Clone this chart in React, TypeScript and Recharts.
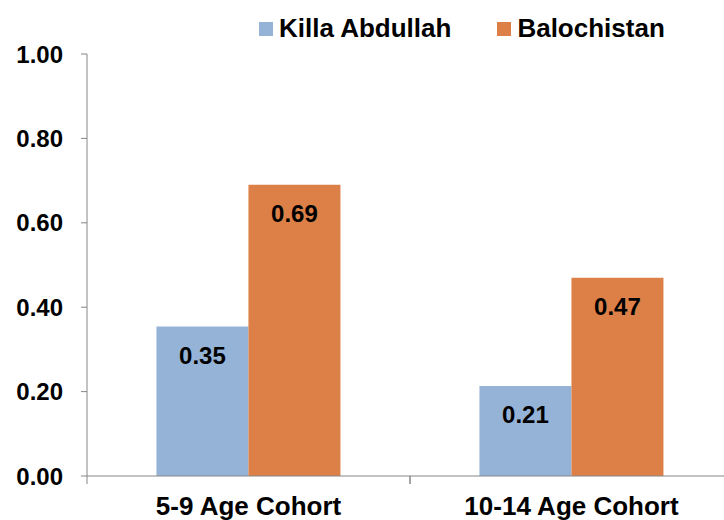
import React from 'react';
import { BarChart, Bar, XAxis, YAxis, LabelList } from 'recharts';

const cohorts = ['5-9 Age Cohort', '10-14 Age Cohort'];
const killaAbdullah = [0.354, 0.213];
const balochistan = [0.69, 0.47];
const yTicks = [0, 0.2, 0.4, 0.6, 0.8, 1.0];

const seriesNames = { killa: 'Killa Abdullah', balo: 'Balochistan' };
const colors = { killa: '#95B3D7', balo: '#DD8047' };

const data = cohorts.map((c, i) => ({
  name: c,
  killa: killaAbdullah[i],
  balo: balochistan[i],
}));

const FONT = '"Liberation Sans", Arial, sans-serif';
const AXIS = '#868686';

const CategoryTick = (props: any) => {
  const { x, y, payload } = props;
  const half = payload && payload.offset ? payload.offset : 0;
  return (
    <g>
      {half > 0 && (
        <>
          <line x1={x - half} x2={x - half} y1={y} y2={y + 8} stroke={AXIS} />
          <line x1={x + half} x2={x + half} y1={y} y2={y + 8} stroke={AXIS} />
        </>
      )}
      <text x={x} y={y + 39} textAnchor="middle" fill="#000" fontSize={26} fontWeight="bold" fontFamily={FONT}>
        {payload.value}
      </text>
    </g>
  );
};

const LegendBox = () => (
  <div style={{ position: 'absolute', left: 259, top: 13, display: 'flex', alignItems: 'center', fontFamily: FONT, fontWeight: 'bold', fontSize: 26, color: '#000', whiteSpace: 'nowrap' }}>
    <span style={{ width: 14, height: 14, background: colors.killa, display: 'inline-block', marginRight: 6 }} />
    <span style={{ marginRight: 46 }}>{seriesNames.killa}</span>
    <span style={{ width: 14, height: 14, background: colors.balo, display: 'inline-block', marginRight: 6 }} />
    <span>{seriesNames.balo}</span>
  </div>
);

export default function App() {
  return (
    <div style={{ position: 'absolute', left: 0, top: 0, width: 724, height: 520, overflow: 'hidden', background: '#fff' }}>
      <LegendBox />
      <BarChart width={740} height={520} data={data} margin={{ top: 54, right: 7, left: 0, bottom: 0 }} barCategoryGap="21.5%" barGap={0}>
        <XAxis
          dataKey="name"
          height={44}
          tickSize={0}
          tickMargin={0}
          tickLine={false}
          axisLine={{ stroke: AXIS }}
          tick={<CategoryTick />}
          interval={0}
        />
        <YAxis
          width={87}
          domain={[0, 1]}
          ticks={yTicks}
          tickFormatter={(v: number) => v.toFixed(2)}
          tick={{ fill: '#000', fontSize: 24, fontWeight: 'bold', fontFamily: FONT }}
          tickSize={6}
          tickMargin={18}
          tickLine={{ stroke: AXIS }}
          axisLine={{ stroke: AXIS }}
        />
        <Bar dataKey="killa" name={seriesNames.killa} fill={colors.killa} isAnimationActive={false}>
          <LabelList dataKey="killa" position="insideTop" offset={20} formatter={(v: any) => Number(v).toFixed(2)} fill="#000" fontSize={24} fontWeight="bold" fontFamily={FONT} />
        </Bar>
        <Bar dataKey="balo" name={seriesNames.balo} fill={colors.balo} isAnimationActive={false}>
          <LabelList dataKey="balo" position="insideTop" offset={20} formatter={(v: any) => Number(v).toFixed(2)} fill="#000" fontSize={24} fontWeight="bold" fontFamily={FONT} />
        </Bar>
      </BarChart>
    </div>
  );
}
